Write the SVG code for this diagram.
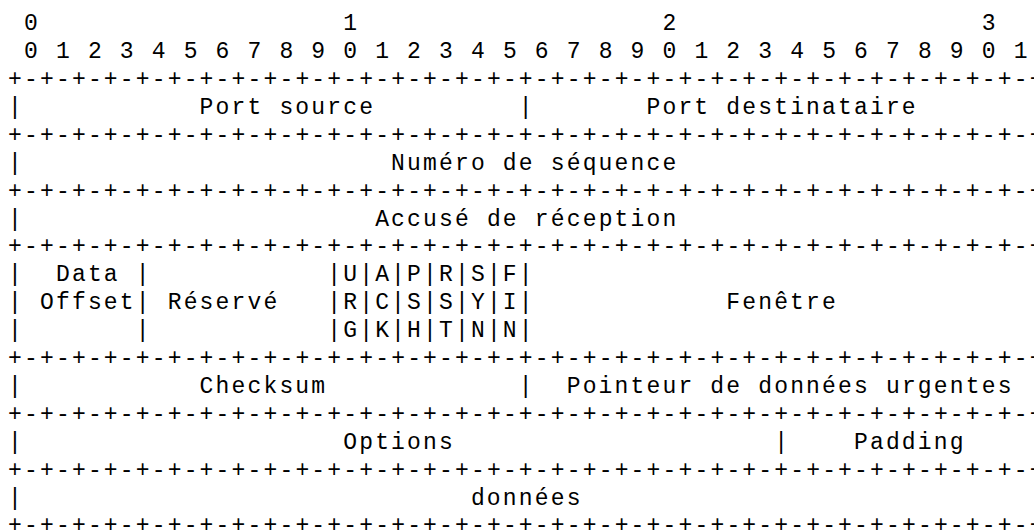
<svg xmlns="http://www.w3.org/2000/svg" width="1034" height="531" viewBox="0 0 1034 531">
<style>
text{font-family:"Liberation Mono","Courier New",monospace;font-size:23px;letter-spacing:2.16px;fill:#000}
</style>
<rect width="1034" height="531" fill="#fff"/>
<g id="ruler">
<text x="24.04 343.24 662.44 981.64" y="30.2">0123</text>
<text x="24.04" y="58.1" xml:space="preserve">0 1 2 3 4 5 6 7 8 9 0 1 2 3 4 5 6 7 8 9 0 1 2 3 4 5 6 7 8 9 0 1</text>
</g>
<g id="connectors">
<text x="8.08" y="86.0">+-+-+-+-+-+-+-+-+-+-+-+-+-+-+-+-+-+-+-+-+-+-+-+-+-+-+-+-+-+-+-+-+</text>
<text x="8.08" y="141.8">+-+-+-+-+-+-+-+-+-+-+-+-+-+-+-+-+-+-+-+-+-+-+-+-+-+-+-+-+-+-+-+-+</text>
<text x="8.08" y="197.6">+-+-+-+-+-+-+-+-+-+-+-+-+-+-+-+-+-+-+-+-+-+-+-+-+-+-+-+-+-+-+-+-+</text>
<text x="8.08" y="253.4">+-+-+-+-+-+-+-+-+-+-+-+-+-+-+-+-+-+-+-+-+-+-+-+-+-+-+-+-+-+-+-+-+</text>
<text x="8.08" y="365.0">+-+-+-+-+-+-+-+-+-+-+-+-+-+-+-+-+-+-+-+-+-+-+-+-+-+-+-+-+-+-+-+-+</text>
<text x="8.08" y="420.8">+-+-+-+-+-+-+-+-+-+-+-+-+-+-+-+-+-+-+-+-+-+-+-+-+-+-+-+-+-+-+-+-+</text>
<text x="8.08" y="476.6">+-+-+-+-+-+-+-+-+-+-+-+-+-+-+-+-+-+-+-+-+-+-+-+-+-+-+-+-+-+-+-+-+</text>
<text x="8.08" y="532.4">+-+-+-+-+-+-+-+-+-+-+-+-+-+-+-+-+-+-+-+-+-+-+-+-+-+-+-+-+-+-+-+-+</text>
<text x="8.08 518.8" y="113.9">||</text>
<text x="8.08" y="169.7">|</text>
<text x="8.08" y="225.5">|</text>
<text x="8.08 135.76 327.28 359.2 391.12 423.04 454.96 486.88 518.8" y="281.3">|||||||||</text>
<text x="8.08 135.76 327.28 359.2 391.12 423.04 454.96 486.88 518.8" y="309.2">|||||||||</text>
<text x="8.08 135.76 327.28 359.2 391.12 423.04 454.96 486.88 518.8" y="337.1">|||||||||</text>
<text x="8.08 518.8" y="392.9">||</text>
<text x="8.08 774.16" y="448.7">||</text>
<text x="8.08" y="504.5">|</text>
</g>
<g id="port-source"><text x="199.6" y="113.9">Port source</text></g>
<g id="port-destinataire"><text x="646.48" y="113.9">Port destinataire</text></g>
<g id="numero-sequence"><text x="391.12" y="169.7">Numéro de séquence</text></g>
<g id="accuse-reception"><text x="375.16" y="225.5">Accusé de réception</text></g>
<g id="data-offset"><text x="55.96" y="281.3">Data</text><text x="40" y="309.2">Offset</text></g>
<g id="reserve"><text x="167.68" y="309.2">Réservé</text></g>
<g id="flags">
<text x="343.24 375.16 407.08 439 470.92 502.84" y="281.3">UAPRSF</text>
<text x="343.24 375.16 407.08 439 470.92 502.84" y="309.2">RCSSYI</text>
<text x="343.24 375.16 407.08 439 470.92 502.84" y="337.1">GKHTNN</text>
</g>
<g id="fenetre"><text x="726.28" y="309.2">Fenêtre</text></g>
<g id="checksum"><text x="199.6" y="392.9">Checksum</text></g>
<g id="pointeur-urgent"><text x="566.68" y="392.9">Pointeur de données urgentes</text></g>
<g id="options"><text x="343.24" y="448.7">Options</text></g>
<g id="padding"><text x="853.96" y="448.7">Padding</text></g>
<g id="donnees"><text x="470.92" y="504.5">données</text></g>
</svg>
